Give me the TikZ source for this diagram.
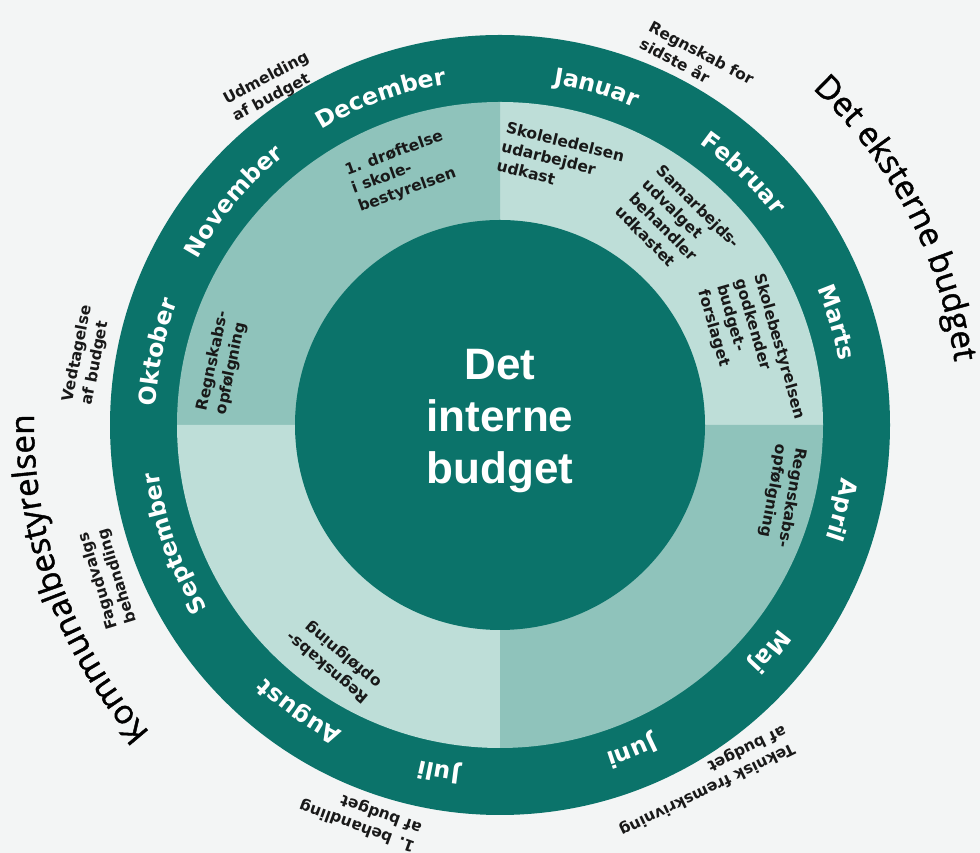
\documentclass[tikz,border=0pt]{standalone}
\usepackage{fontspec}
\setmainfont{DejaVu Sans}
\newfontfamily\dvs{DejaVu Sans}
\newfontfamily\lib{Liberation Sans}
\newfontfamily\ops{Open Sans}[FakeBold=1.3]
\usetikzlibrary{decorations.text}
\definecolor{bgc}{RGB}{243,245,245}
\definecolor{dark}{RGB}{11,115,106}
\definecolor{midc}{RGB}{143,195,187}
\definecolor{lite}{RGB}{190,222,216}
\begin{document}
\begin{tikzpicture}[x=1pt,y=1pt,
  lbl/.style={inner sep=0pt, anchor=north west, align=left, font=\dvs\bfseries\fontsize{15.5}{19.5}\selectfont, text=black!90},
  monthtxt/.style={decorate, decoration={text along path, text={|\dvs\bfseries\fontsize{23.5}{28}\selectfont|#1}, text color=white, text align=center}},
  bigtxt/.style={decorate, decoration={text along path, text={|\ops\fontsize{33}{38}\selectfont|#1}, text color=black, text align=center}}
]
\fill[bgc] (0,0) rectangle (980,853);
\useasboundingbox (0,0) rectangle (980,853);
\coordinate (C) at (500,428);
\fill[dark] (C) circle[radius=390];
\fill[lite] (C) -- ++(0:323) arc[start angle=0,end angle=90,radius=323] -- cycle;
\fill[midc] (C) -- ++(90:323) arc[start angle=90,end angle=180,radius=323] -- cycle;
\fill[lite] (C) -- ++(180:323) arc[start angle=180,end angle=270,radius=323] -- cycle;
\fill[midc] (C) -- ++(270:323) arc[start angle=270,end angle=360,radius=323] -- cycle;
\fill[dark] (C) circle[radius=205];

% months
\path[monthtxt=Januar] (C) ++(109:345) arc[start angle=109,end angle=39,radius=345];
\path[monthtxt=Februar] (C) ++(81:345) arc[start angle=81,end angle=11,radius=345];
\path[monthtxt=Marts] (C) ++(52:345) arc[start angle=52,end angle=-18,radius=345];
\path[monthtxt=April] (C) ++(21:345) arc[start angle=21,end angle=-49,radius=345];
\path[monthtxt=Maj] (C) ++(-5:345) arc[start angle=-5,end angle=-75,radius=345];
\path[monthtxt=Juni] (C) ++(-33:345) arc[start angle=-33,end angle=-103,radius=345];
\path[monthtxt=Juli] (C) ++(-65:345) arc[start angle=-65,end angle=-135,radius=345];
\path[monthtxt=August] (C) ++(-90:345) arc[start angle=-90,end angle=-160,radius=345];
\path[monthtxt=September] (C) ++(-125:345) arc[start angle=-125,end angle=-195,radius=345];
\path[monthtxt=Oktober] (C) ++(203:345) arc[start angle=203,end angle=133,radius=345];
\path[monthtxt=November] (C) ++(175:345) arc[start angle=175,end angle=105,radius=345];
\path[monthtxt=December] (C) ++(145:345) arc[start angle=145,end angle=75,radius=345];

% inner labels
\node[lbl, rotate=-14] (skl) at (508,732) {Skoleledelsen\\udarbejder\\udkast};
\node[lbl, rotate=-45] (sam) at (664,690) {Samarbejds-\\udvalget\\behandler\\udkastet};
\node[lbl, rotate=-74] (sbg) at (766,581) {Skolebestyrelsen\\godkender\\budget-\\forslaget};
\node[lbl, rotate=20] (drf) at (343,689) {1. drøftelse\\i skole-\\bestyrelsen};
\node[lbl, rotate=78] (rg1) at (195,444) {Regnskabs-\\opfølgning};
\node[lbl, rotate=-100] (rg2) at (808,404) {Regnskabs-\\opfølgning};
\node[lbl, rotate=140] (rg3) at (362,147) {Regnskabs-\\opfølgning};

% outer annotations
\node[lbl, rotate=-28] (rsa) at (653,833) {Regnskab for\\sidste år};
\node[lbl, rotate=28] (udm) at (221,759) {Udmelding\\af budget};
\node[lbl, rotate=79] (ved) at (61,453) {Vedtagelse\\af budget};
\node[lbl, rotate=107] (fag) at (106,222) {Fagudvalgs\\behandling};
\node[lbl, rotate=160] (beh) at (412,-1) {1. behandling\\af budget};
\node[lbl, rotate=-154] (tek) at (797,99) {Teknisk fremskrivning\\af budget};

% big labels
\path[bigtxt=Det eksterne budget] (C) ++(75:459) arc[start angle=75,end angle=-20,radius=459];
\path[bigtxt=Kommunalbestyrelsen] (C) ++(249:466) arc[start angle=249,end angle=151,radius=466];

% centre
\node[text=white, font=\lib\bfseries\fontsize{44}{52}\selectfont, align=center] (ctr) at (500,432) {Det\\interne\\budget};
\end{tikzpicture}
\end{document}
